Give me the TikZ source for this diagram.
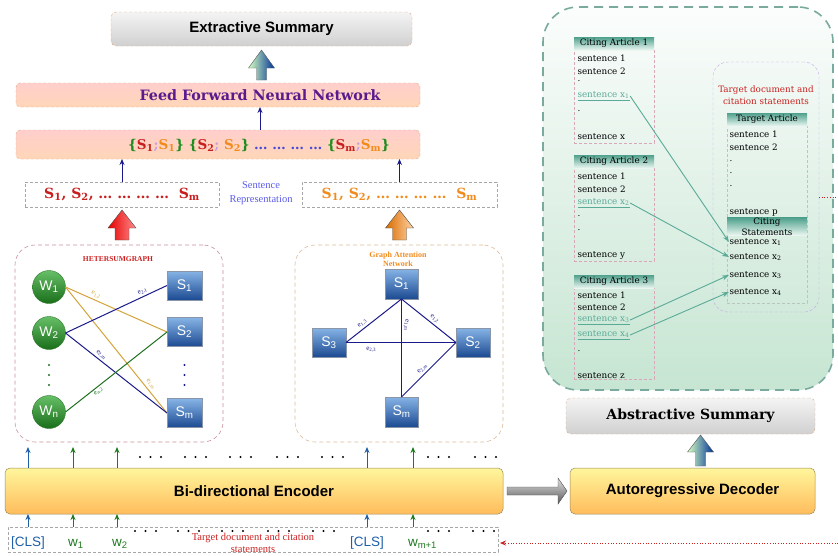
\documentclass[tikz,border=0pt]{standalone}
\usepackage{fontspec}
\setmainfont{DejaVu Serif}
\setsansfont{Liberation Sans}
\newfontfamily\tms{Liberation Serif}
\usetikzlibrary{calc,arrows.meta}

% palette
\definecolor{navyc}{HTML}{1A1A8A}
\definecolor{goldc}{HTML}{D4A23A}
\definecolor{grnc}{HTML}{1F6F1F}
\definecolor{redc}{HTML}{C81E1E}
\definecolor{orgc}{HTML}{F08C1E}
\definecolor{brc}{HTML}{1E8C1E}
\definecolor{dotc}{HTML}{4848DC}
\definecolor{semc}{HTML}{C8A0E0}
\definecolor{tealc}{HTML}{5AAA98}
\definecolor{tokb}{HTML}{1F5FA8}
\definecolor{tokg}{HTML}{1E7A1E}
\definecolor{repc}{HTML}{5A5AE6}
\definecolor{ffc}{HTML}{5A1A8C}
\definecolor{peachc}{HTML}{E2AE8E}
\definecolor{gtop}{HTML}{F4F4F4}
\definecolor{gbot}{HTML}{D0D0D0}
\definecolor{saltop}{HTML}{FFCFCC}
\definecolor{salbot}{HTML}{FFD6B8}
\definecolor{ytop}{HTML}{FFF69C}
\definecolor{ybot}{HTML}{FFBC5C}
\definecolor{ybord}{HTML}{9A8A5A}
\definecolor{wtop}{HTML}{66BF66}
\definecolor{wbot}{HTML}{1A6E1A}
\definecolor{wbord}{HTML}{2E7A2E}
\definecolor{sqtop}{HTML}{86B4E6}
\definecolor{sqbot}{HTML}{1C4A92}
\definecolor{sqbord}{HTML}{8A96A8}
\definecolor{hetc}{HTML}{C8909A}
\definecolor{gatc}{HTML}{D8BA9A}
\definecolor{htitle}{HTML}{CC2020}
\definecolor{panelb}{HTML}{7AAA9E}
\definecolor{paneltop}{HTML}{FBFDFC}
\definecolor{panelbot}{HTML}{C6E5D2}
\definecolor{lavc}{HTML}{C6A8E8}
\definecolor{hdtop}{HTML}{4FA08C}
\definecolor{hdbot}{HTML}{EAF6F1}
\definecolor{pinkd}{HTML}{D8A8B8}
\definecolor{tgtd}{HTML}{B8C8B8}
\definecolor{dredc}{HTML}{C8201E}

\newcommand\sbx[1]{\textsubscript{#1}}
% upward block arrow: style, foot, tip, half shaft, half head, head length
\newcommand\blockup[6]{%
  \shade[#1] let \p1=#2, \p2=#3 in
    (\x1-#4,\y1) -- (\x1+#4,\y1) -- (\x1+#4,\y2-#6) -- (\x1+#5,\y2-#6)
    -- (\x1,\y2) -- (\x1-#5,\y2-#6) -- (\x1-#4,\y2-#6) -- cycle;}

\begin{document}
\begin{tikzpicture}[x=1pt,y=-1pt,
  every node/.style={inner sep=0pt,outer sep=0pt},
  greybox/.style={draw=peachc,dash pattern=on 3pt off 2pt,top color=gtop,bottom color=gbot,rounded corners=5pt},
  salbox/.style={draw=peachc,dash pattern=on 3pt off 2pt,top color=saltop,bottom color=salbot,rounded corners=4pt},
  repbox/.style={draw=gray!70,dash pattern=on 3pt off 2pt,fill=white},
  graphbox/.style={dash pattern=on 4pt off 3pt,rounded corners=20pt,line width=0.6pt},
  ybox/.style={draw=ybord,top color=ytop,bottom color=ybot,rounded corners=5pt,line width=0.5pt},
  wnode/.style={circle,minimum size=33pt,draw=wbord,top color=wtop,bottom color=wbot,text=white,font=\sffamily\fontsize{14}{14}\selectfont},
  snode/.style={rectangle,minimum width=35pt,minimum height=29pt,draw=sqbord,top color=sqtop,bottom color=sqbot,text=white,font=\sffamily\fontsize{14}{14}\selectfont},
  elab/.style={font=\tms\fontsize{7}{7}\selectfont,inner sep=2.2pt},
  smallup/.style={navyc,line width=0.9pt,-{Stealth[length=6pt,width=5pt]}},
  tokup/.style={line width=0.9pt,-{Stealth[length=6pt,width=5pt]}},
  tok/.style={anchor=base,font=\sffamily\fontsize{13.5}{14}\selectfont},
  sent/.style={anchor=west,inner sep=0.5pt,font=\fontsize{8.8}{10}\selectfont},
  cite/.style={sent,text=tealc},
  hdr/.style={minimum width=80pt,minimum height=13pt,top color=hdtop,bottom color=hdbot,font=\fontsize{8.8}{10}\selectfont},
  artbody/.style={draw=pinkd,dash pattern=on 3pt off 2pt,minimum width=80pt},
  tealarr/.style={tealc,line width=0.9pt,-{Stealth[length=7pt,width=5pt]}},
  reddot/.style={dredc,dotted,line width=0.7pt},
  dotsrow/.style={fill=black}
]
\useasboundingbox (0,0) rectangle (838,555);

% ---------------- right panel: citing articles ----------------
\node[draw=panelb,line width=1.6pt,dash pattern=on 9pt off 6pt,top color=paneltop,bottom color=panelbot,
      rounded corners=35pt,minimum width=290pt,minimum height=383pt] (panel) at (688,198.5) {};

\node[artbody,minimum height=93pt] (ca1b) at (614,96.5) {};
\node[hdr] (ca1) at (614,43.5) {Citing Article 1};
\node[artbody,minimum height=93pt] (ca2b) at (614,214.5) {};
\node[hdr] (ca2) at (614,161.5) {Citing Article 2};
\node[artbody,minimum height=91pt] (ca3b) at (614,333.5) {};
\node[hdr] (ca3) at (614,281.5) {Citing Article 3};

\node[sent] (a1s1) at (577,58) {sentence 1};
\node[sent] (a1s2) at (577,71) {sentence 2};
\node[sent] (a1d1) at (577,81) {.};
\node[cite] (c1x) at (577,96) {\underline{sentence x\sbx{1}}};
\node[sent] (a1d2) at (577,111) {.};
\node[sent] (a1sx) at (577,137) {sentence x};

\node[sent] (a2s1) at (577,176) {sentence 1};
\node[sent] (a2s2) at (577,189) {sentence 2};
\node[cite] (c2x) at (577,203) {\underline{sentence x\sbx{2}}};
\node[sent] (a2d1) at (577,216) {.};
\node[sent] (a2d2) at (577,230) {.};
\node[sent] (a2sy) at (577,255) {sentence y};

\node[sent] (a3s1) at (577,295) {sentence 1};
\node[sent] (a3s2) at (577,307) {sentence 2};
\node[cite] (c3x) at (577,320) {\underline{sentence x\sbx{3}}};
\node[cite] (c4x) at (577,335) {\underline{sentence x\sbx{4}}};
\node[sent] (a3d1) at (577,351) {.};
\node[sent] (a3sz) at (577,376) {sentence z};

% target document region
\node[draw=lavc,dash pattern=on 3pt off 2pt,rounded corners=15pt,minimum width=106pt,minimum height=250pt] (tgt) at (766,187) {};
\node[text=dredc,align=center,font=\fontsize{8.8}{12}\selectfont] (tgtt) at (766,95) {Target document and\\citation statements};
\node[draw=tgtd,dash pattern=on 3pt off 2pt,minimum width=80pt,minimum height=177pt] (tab) at (767,214.5) {};
\node[hdr] (ta) at (767,119.5) {Target Article};
\node[sent] (ts1) at (729,134) {sentence 1};
\node[sent] (ts2) at (729,147) {sentence 2};
\node[sent] (td1) at (729,161) {.};
\node[sent] (td2) at (729,173) {.};
\node[sent] (td3) at (729,186) {.};
\node[sent] (tsp) at (729,212) {sentence p};
\node[hdr,minimum height=15pt,align=center,font=\fontsize{8.8}{11}\selectfont] (cs) at (767,226.5) {Citing\\Statements};
\node[sent] (t1) at (729,242) {sentence x\sbx{1}};
\node[sent] (t2) at (729,257) {sentence x\sbx{2}};
\node[sent] (t3) at (729,275) {sentence x\sbx{3}};
\node[sent] (t4) at (729,292) {sentence x\sbx{4}};

\draw[tealarr] (c1x.east) -- (t1.west);
\draw[tealarr] (c2x.east) -- (t2.west);
\draw[tealarr] (c3x.east) -- (t3.west);
\draw[tealarr] (c4x.east) -- (t4.west);

% ---------------- extractive branch ----------------
\node[greybox,minimum width=301pt,minimum height=34pt,font=\sffamily\bfseries\fontsize{15}{18}\selectfont] (ext) at (261.5,29) {Extractive Summary};
\node[salbox,minimum width=404pt,minimum height=24pt] (ffnn) at (218,95) {};
\node[text=ffc,font=\bfseries\fontsize{14.3}{16}\selectfont] (ffnnt) at (260,95) {Feed Forward Neural Network};
\node[salbox,minimum width=404pt,minimum height=29pt] (cat) at (218,144.5) {};
\node[font=\bfseries\fontsize{13.5}{15}\selectfont] (catt) at (259,145)
  {{\color{brc}\{}{\color{redc}S\sbx{1}}{\color{semc};}{\color{orgc}S\sbx{1}}{\color{brc}\}}
   {\color{brc}\{}{\color{redc}S\sbx{2}}{\color{semc};} {\color{orgc}S\sbx{2}}{\color{brc}\}}
   {\color{dotc}… … … …}
   {\color{brc}\{}{\color{redc}S\sbx{m}}{\color{semc};}{\color{orgc}S\sbx{m}}{\color{brc}\}}};

\node[repbox,minimum width=194pt,minimum height=25pt,text=redc,font=\bfseries\fontsize{14}{16}\selectfont] (repL) at (122,194.5)
  {S\sbx{1}, S\sbx{2}, … … … …\ \ S\sbx{m}};
\node[repbox,minimum width=195pt,minimum height=25pt,text=orgc,font=\bfseries\fontsize{14}{16}\selectfont] (repR) at (399.5,194.5)
  {S\sbx{1}, S\sbx{2}, … … … …\ \ S\sbx{m}};
\node[text=repc,align=center,font=\tms\fontsize{10.5}{14}\selectfont] (sr) at (261,193) {Sentence\\Representation};

\draw[smallup] (repL.north) -- (repL.north |- cat.south);
\draw[smallup] (repR.north) -- (repR.north |- cat.south);
\draw[smallup] (ffnnt.south |- cat.north) -- (ffnnt.south |- ffnn.south);

\blockup{left color=yellow!35!green!25!white,right color=blue!50!teal!80!black,draw=gray!70!black,line width=0.4pt}
  {($(ext.south |- ffnn.north)+(0,-3)$)}{($(ext.south)+(0,4)$)}{5pt}{13pt}{18pt}

% ---------------- graph boxes ----------------
\node[graphbox,draw=hetc,minimum width=208pt,minimum height=197pt] (het) at (119,343.5) {};
\node[graphbox,draw=gatc,minimum width=208pt,minimum height=197pt] (gat) at (399,343.5) {};

\blockup{left color=red!90!black,right color=red!45!white,draw=gray!60!black,line width=0.4pt}
  {($(repL.south |- het.north)+(0,-5)$)}{($(repL.south)+(0,3)$)}{7pt}{14pt}{18pt}
\blockup{left color=orange!85!black,right color=orange!35!white,draw=gray!60!black,line width=0.4pt}
  {($(repR.south |- gat.north)+(0,-5)$)}{($(repR.south)+(0,3)$)}{7pt}{14pt}{18pt}

% HeterSumGraph
\node[text=htitle,font=\tms\bfseries\fontsize{7.5}{8}\selectfont] (hett) at (118,259) {HETERSUMGRAPH};
\node[wnode] (W1) at (49,287) {W\sbx{1}};
\node[wnode] (W2) at (49,333) {W\sbx{2}};
\node[wnode] (Wn) at (49,412) {W\sbx{n}};
\node[snode] (S1) at (184.5,285.5) {S\sbx{1}};
\node[snode] (S2) at (184.5,332) {S\sbx{2}};
\node[snode] (Sm) at (184.5,413) {S\sbx{m}};
\foreach \yy in {365,375,385} {
  \fill[grnc] (49,\yy) circle (1.2);
  \fill[navyc] (184.5,\yy) circle (1.2);
}
\draw[goldc,line width=1pt] (W1.east) -- node[elab,text=goldc,sloped,above,pos=0.28] {e\sbx{1,2}} (S2.west);
\draw[goldc,line width=1pt] (W1.east) -- node[elab,text=goldc,sloped,above,pos=0.8] {e\sbx{1,m}} (Sm.west);
\draw[navyc,line width=1pt] (W2.east) -- node[elab,text=navyc,sloped,above,pos=0.78] {e\sbx{2,1}} (S1.west);
\draw[navyc,line width=1pt] (W2.east) -- node[elab,text=navyc,sloped,above,pos=0.32] {e\sbx{2,m}} (Sm.west);
\draw[grnc,line width=1pt] (Wn.east) -- node[elab,text=grnc,sloped,below,pos=0.3] {e\sbx{n,2}} (S2.west);

% Graph Attention Network
\node[text=orgc,align=center,font=\tms\bfseries\fontsize{8}{9}\selectfont] (gatt) at (398,259.5) {Graph Attention\\Network};
\node[snode,minimum width=33pt,minimum height=30pt] (G1) at (401.5,284) {S\sbx{1}};
\node[snode,minimum width=34pt,minimum height=29pt] (G3) at (329,342.5) {S\sbx{3}};
\node[snode,minimum width=34pt,minimum height=29pt] (G2) at (473,342.5) {S\sbx{2}};
\node[snode,minimum width=33pt,minimum height=30pt] (Gm) at (401.5,412) {S\sbx{m}};
\draw[navyc,line width=1pt] (G3.east) -- node[elab,text=navyc,sloped,above,pos=0.35] {e\sbx{1,3}} (G1.south);
\draw[navyc,line width=1pt] (G1.south) -- node[elab,text=navyc,sloped,above,pos=0.55] {e\sbx{1,2}} (G2.west);
\draw[navyc,line width=1pt] (G1.south) -- node[elab,text=navyc,sloped,above,pos=0.27] {e\sbx{1,m}} (Gm.north);
\draw[navyc,line width=1pt] (G3.east) -- node[elab,text=navyc,below=2pt,pos=0.23] {e\sbx{2,3}} (G2.west);
\draw[navyc,line width=1pt] (Gm.north) -- node[elab,text=navyc,sloped,above,pos=0.45] {e\sbx{2,m}} (G2.west);

% ---------------- encoder / decoder ----------------
\node[ybox,minimum width=498pt,minimum height=46pt,font=\sffamily\bfseries\fontsize{15}{18}\selectfont] (enc) at (254,491) {Bi-directional Encoder};
\node[repbox,fill=none,minimum width=490pt,minimum height=25pt] (inp) at (253,539.5) {};
\node[text=dredc,align=center,font=\tms\fontsize{10.5}{12}\selectfont] (tdl) at (253,543) {Target document and citation\\statements};

\node[tok,text=tokb] (cls1) at (28,546) {[CLS]};
\node[tok,text=tokg,anchor=base west] (w1) at (68,546) {w\sbx{1}};
\node[tok,text=tokg,anchor=base west] (w2) at (112,546) {w\sbx{2}};
\node[tok,text=tokb] (cls2) at (367,546) {[CLS]};
\node[tok,text=tokg,anchor=base west] (wm) at (408,546) {w\sbx{m+1}};

\coordinate (x1) at (28,0);
\coordinate (x2) at (73,0);
\coordinate (x3) at (117,0);
\coordinate (x4) at (367,0);
\coordinate (x5) at (413,0);
\coordinate (topline) at (0,447);
\foreach \c/\col in {x1/tokb,x2/tokg,x3/tokg,x4/tokb,x5/tokg} {
  \draw[tokup,\col] (\c |- inp.north) -- (\c |- enc.south);
  \draw[tokup,\col] (\c |- enc.north) -- (\c |- topline);
}
\foreach \gx in {140,185,230,277,322,428,475}
  \foreach \k in {0,1,2} \fill[dotsrow] (\gx+\k*10.5,457) circle (1.15);
\foreach \gx in {135,178,222,268,313,428,473}
  \foreach \k in {0,1,2} \fill[dotsrow] (\gx+\k*10.5,531) circle (1.15);

\node[ybox,minimum width=245pt,minimum height=46pt,font=\sffamily\bfseries\fontsize{15}{18}\selectfont] (dec) at (692.5,491) {Autoregressive Decoder};
\node[greybox,minimum width=249pt,minimum height=36pt,font=\bfseries\fontsize{14}{16}\selectfont] (abs) at (690.5,416) {Abstractive Summary};

\blockup{left color=yellow!35!green!25!white,right color=blue!50!teal!80!black,draw=gray!70!black,line width=0.4pt}
  {($(dec.north)+(8,-2)$)}{($(abs.south)+(10,1)$)}{5pt}{13pt}{17pt}

% encoder to decoder
\shade[top color=gray!25,bottom color=gray!70!black,draw=gray!60!black,line width=0.4pt]
  let \p1=(enc.east), \p2=(dec.west) in
  (\x1+4pt,\y1+4pt) -- (\x2-12pt,\y1+4pt) -- (\x2-12pt,\y1+13pt) -- (\x2-3pt,\y1)
  -- (\x2-12pt,\y1-13pt) -- (\x2-12pt,\y1-4pt) -- (\x1+4pt,\y1-4pt) -- cycle;

% dotted feedback from the citation panel to the encoder input
\coordinate (edgeA) at (838,197);
\coordinate (edgeB) at (838,543);
\draw[reddot] (tgt.east |- edgeA) -- (edgeA);
\draw[reddot,-{Stealth[length=6pt,width=5pt]}] (edgeB) -- ($(inp.east |- edgeB)+(2,0)$);
\end{tikzpicture}
\end{document}
